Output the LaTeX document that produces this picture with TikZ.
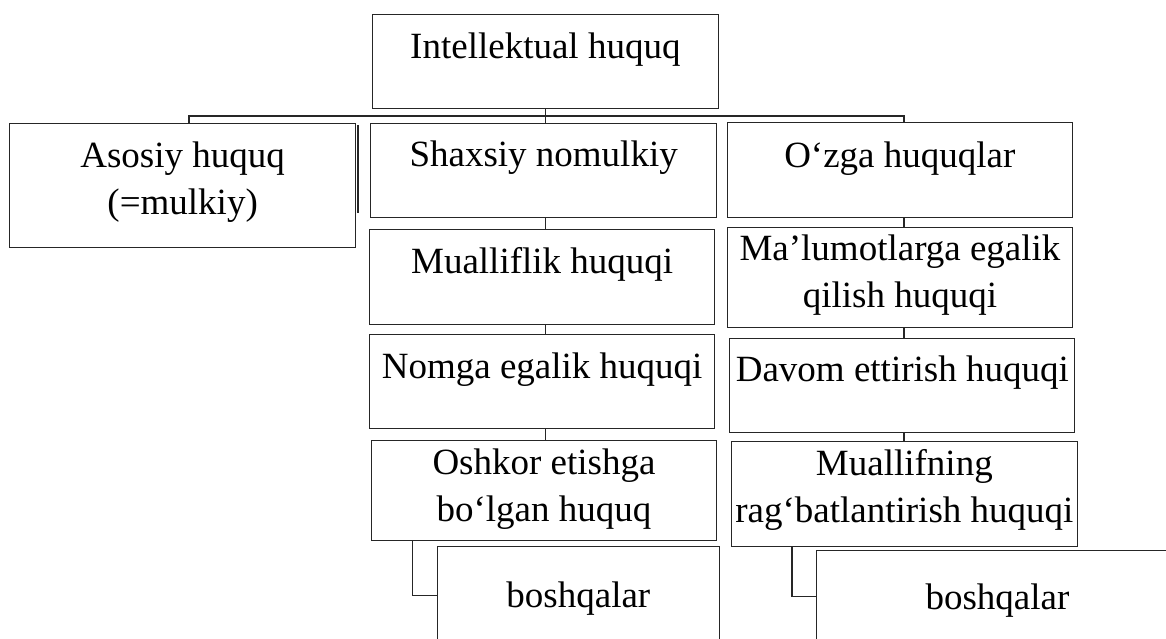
\documentclass[tikz,border=0pt]{standalone}
\usepackage{fontspec}
\setmainfont{Liberation Serif}
\newcommand\twol[2]{\begin{tabular}[t]{@{}c@{}}#1\\#2\end{tabular}}
\tikzset{
  box/.style={draw=black!85, line width=1pt, fill=white, inner sep=0pt, anchor=north west,
    font=\fontsize{37}{47}\selectfont},
  conn/.style={draw=black!85, line width=1.6pt},
  bus/.style={draw=black!85, line width=2pt},
}
\begin{document}
\begin{tikzpicture}[x=1pt,y=-1pt]
\useasboundingbox (0,0) rectangle (1166,639);
\begin{scope}
\clip (0,0) rectangle (1166,639);
% connector coordinates
\coordinate (busL) at (189,116);
\coordinate (busR) at (904,116);
\coordinate (k1) at (412.3,0);
\coordinate (k2) at (792,0);
% boxes
\node[box, minimum width=345.7pt, text height=44.3pt, text depth=49.7pt] (top) at (372,14) {Intellektual huquq};
\node[box, minimum width=345.7pt, text height=43.4pt, text depth=80.6pt] (aso) at (9.3,123.3) {\twol{Asosiy huquq}{(=mulkiy)}};
\node[box, minimum width=345.7pt, text height=42.7pt, text depth=51.3pt] (sha) at (370.3,123.3) {Shaxsiy nomulkiy};
\node[box, minimum width=345.3pt, text height=44pt, text depth=50.7pt] (mua) at (369,229.3) {Mualliflik huquqi};
\node[box, minimum width=345.3pt, text height=44.3pt, text depth=49.4pt] (nom) at (369,334) {Nomga egalik huquqi};
\node[box, minimum width=345pt, text height=34pt, text depth=66pt] (osh) at (371,440) {\twol{Oshkor etishga}{bo‘lgan huquq}};
\node[box, minimum width=282.3pt, text height=60.7pt, text depth=37.3pt] (bo1) at (436.7,546) {boshqalar};
\node[box, minimum width=345.3pt, text height=44.4pt, text depth=50pt] (ozg) at (726.7,122.3) {O‘zga huquqlar};
\node[box, minimum width=345.6pt, text height=33.3pt, text depth=66.7pt] (mal) at (726.7,226.7) {\twol{Ma’lumotlarga egalik}{qilish huquqi}};
\node[box, minimum width=345pt, text height=42.7pt, text depth=51.3pt] (dav) at (729.3,338.3) {Davom ettirish huquqi};
\node[box, minimum width=345.7pt, text height=34pt, text depth=70.7pt] (mfn) at (731,441) {\twol{Muallifning}{rag‘batlantirish huquqi}};
\node[box, minimum width=361.4pt, text height=59.3pt, text depth=32.7pt] (bo2) at (816.3,550) {boshqalar};
% shadow edge behind Asosiy box
\draw[line width=2.2pt, black!85] ([xshift=1.8pt,yshift=-2pt]aso.north east) -- ([xshift=1.8pt,yshift=-89.5pt]aso.north east);
% connectors
\draw[conn] (top.south) -- (top.south |- busL);
\draw[bus] (busL |- aso.north) -- (busL) -- (busR) -- (busR |- ozg.north);
\draw[conn] (top.south |- busL) -- (top.south |- sha.north);
\draw[conn] (top.south |- sha.south) -- (top.south |- mua.north);
\draw[conn] (top.south |- mua.south) -- (top.south |- nom.north);
\draw[conn] (top.south |- nom.south) -- (top.south |- osh.north);
\draw[conn] (busR |- ozg.south) -- (busR |- mal.north);
\draw[conn] (busR |- mal.south) -- (busR |- dav.north);
\draw[conn] (busR |- dav.south) -- (busR |- mfn.north);
\draw[conn] (k1 |- osh.south) |- (bo1.west);
\draw[conn] (k2 |- mfn.south) |- (bo2.west);
\end{scope}
\end{tikzpicture}
\end{document}
